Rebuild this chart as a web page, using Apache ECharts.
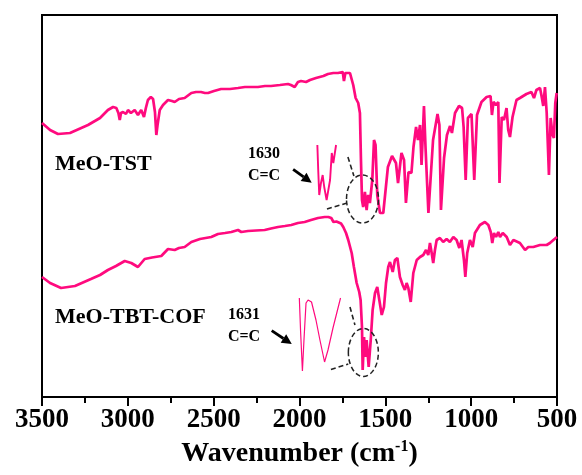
<!DOCTYPE html>
<html><head><meta charset="utf-8">
<script src="https://cdn.jsdelivr.net/npm/echarts@6/dist/echarts.min.js"></script>
<style>html,body{margin:0;padding:0;background:#fff}#c{width:582px;height:475px}</style>
</head><body><div id="c"></div>
<script>
// ---- data (wavenumber in cm-1, transmittance in arbitrary units) ----
const xTicks = [3500, 3000, 2500, 2000, 1500, 1000, 500];
const wnTop = [3500,3453,3407,3337,3232,3162,3116,3086,3067,3055,3047,3040,3028,3011,2999,2982,2960,2941,2922,2906,2895,2883,2866,2853,2842,2834,2827,2814,2795,2766,2743,2727,2702,2669,2630,2603,2574,2551,2533,2498,2457,2405,2358,2318,2283,2242,2201,2166,2114,2067,2050,2028,2009,1991,1962,1939,1904,1861,1834,1803,1776,1748,1741,1733,1725,1706,1687,1673,1658,1648,1642,1636,1629,1619,1609,1600,1590,1576,1566,1557,1547,1531,1512,1485,1461,1438,1426,1406,1391,1380,1365,1348,1336,1321,1310,1298,1289,1275,1266,1249,1222,1196,1185,1176,1158,1141,1123,1112,1094,1071,1053,1044,1032,1019,998,982,966,940,910,887,879,870,855,842,835,822,809,794,784,774,759,736,716,678,649,634,620,599,591,580,570,560,547,537,526,518,510,502];
const tTop = [274,267,263,264,272,279,287,290,289,284,277,284,285,283,287,284,287,282,287,280,289,297,300,298,285,262,272,287,292,297,296,295,298,299,304,305,305,304,304,306,308,308,309,310,310,310,311,311,312,313,312,310,315,316,315,317,319,321,323,324,324,325,316,324,325,324,312,299,294,284,237,197,190,205,187,202,194,217,257,252,202,184,184,230,241,234,214,244,237,194,225,224,250,270,257,272,232,291,250,184,257,283,272,187,239,262,271,264,284,291,289,270,217,279,283,217,282,295,300,301,282,295,292,295,214,280,277,289,267,260,280,297,299,303,305,299,307,309,302,291,310,284,222,279,262,259,294,304];
const wnBot = [3500,3453,3389,3308,3215,3162,3116,3069,3018,2980,2941,2902,2859,2805,2766,2727,2702,2669,2630,2580,2514,2475,2434,2397,2358,2339,2300,2253,2203,2166,2125,2085,2048,2009,1970,1933,1892,1853,1832,1815,1802,1793,1785,1774,1758,1745,1729,1716,1696,1683,1667,1652,1644,1636,1632,1624,1617,1609,1597,1585,1574,1560,1547,1535,1521,1508,1496,1483,1473,1457,1444,1430,1415,1399,1386,1376,1366,1352,1337,1317,1298,1279,1263,1250,1240,1230,1221,1211,1201,1182,1163,1143,1124,1104,1085,1069,1056,1042,1034,1023,1007,991,978,949,920,900,886,877,867,855,842,832,816,793,774,754,716,686,667,638,599,560,541,521,500];
const tBot = [120,114,109,111,118,122,127,131,136,134,130,138,139.5,141,148,147,149,150,155,158,160,163,164,165,167,165,166,166.5,167,168.5,170,171,172,174,175,177,179,180,180,179,175,173,175.5,176,173.5,170,164,157,144,130,114,105,97,70,27,60,40,57,30,57,87,104,110,97,82,90,114,130,135,125,137,139,120,112,107,114,109,95,124,137,140,142,147,142,154,144,134,147,157,159,155,158,155,160,157,149,157,137,120,144,157,150,164,172,175,172,165,154,164,160,165,160,164,160,152,157,154,147,150,150,152,152,154,157,160];
// magnified insets (drawn on the same axes)
const insetTopWn = [1896,1891,1885,1875,1865,1856,1842,1832,1822,1812,1803,1787];
const insetTopT  = [252,227,202,214,222,210,197,207,217,244,234,252];
const insetBotWn = [2001,1994,1983,1974,1962,1950,1930,1904,1881,1854,1834,1805,1761];
const insetBotT  = [99,67,26,57,94,97,95,77,57,35,47,69,99];
// annotation anchors (data coords)
const ellipses = [{c:[1633,198], rx:16, ry:24}, {c:[1628,44.5], rx:15, ry:24}];
const dashes = [[[1718,240],[1683,221]], [[1840,188],[1723,194]], [[1706,90],[1677,72]], [[1817,27.5],[1716,33]]];
const arrows = [[[2037,227.7],[1929,214.3]], [[2162,66.3],[2045,53]]];

const pink = '#FF0A7E';
const serif = '"Liberation Serif","Times New Roman",serif';
const zip = (a, b) => a.map((v, i) => [v, b[i]]);

const chart = echarts.init(document.getElementById('c'), null, {renderer: 'canvas'});
chart.setOption({
  animation: false,
  backgroundColor: '#fff',
  grid: {left: 42, right: 25, top: 15, bottom: 78, show: true, borderColor: '#000', borderWidth: 2, backgroundColor: 'transparent'},
  xAxis: {
    type: 'value', inverse: true, min: 500, max: 3500, interval: 500,
    axisLine: {show: true, onZero: false, lineStyle: {color: '#000', width: 2}},
    axisTick: {show: true, inside: false, length: 9, lineStyle: {color: '#000', width: 2}},
    minorTick: {show: true, splitNumber: 2, length: 6, lineStyle: {color: '#000', width: 2}},
    splitLine: {show: false},
    axisLabel: {show: true, margin: 10, color: '#000', fontFamily: serif, fontWeight: 'bold', fontSize: 27, showMinLabel: true, showMaxLabel: true,
      formatter: v => xTicks.includes(v) ? String(v) : ''},
    name: '{a|Wavenumber (cm}{s|-1}{a|)}', nameLocation: 'middle', nameGap: 37,
    nameTextStyle: {rich: {
      a: {fontFamily: serif, fontWeight: 'bold', fontSize: 28, color: '#000', lineHeight: 30},
      s: {fontFamily: serif, fontWeight: 'bold', fontSize: 16, color: '#000', verticalAlign: 'top', lineHeight: 16}
    }}
  },
  yAxis: {type: 'value', min: 0, max: 382, show: false},
  series: [
    {type: 'line', data: zip(wnTop, tTop), showSymbol: false, lineStyle: {color: pink, width: 2.7}, z: 3},
    {type: 'line', data: zip(wnBot, tBot), showSymbol: false, lineStyle: {color: pink, width: 2.7}, z: 3},
    {type: 'line', data: zip(insetTopWn, insetTopT), showSymbol: false, lineStyle: {color: pink, width: 1.9}, z: 3},
    {type: 'line', data: zip(insetBotWn, insetBotT), showSymbol: false, lineStyle: {color: pink, width: 1.2}, z: 3}
  ]
});

function px(p) { return chart.convertToPixel({xAxisIndex: 0, yAxisIndex: 0}, p); }
const g = [];
ellipses.forEach(e => {
  const c = px(e.c);
  g.push({type: 'ellipse', shape: {cx: c[0], cy: c[1], rx: e.rx, ry: e.ry},
    style: {fill: 'none', stroke: '#222', lineWidth: 1.5, lineDash: [5, 3]}, z: 10});
});
dashes.forEach(d => {
  const a = px(d[0]), b = px(d[1]);
  g.push({type: 'line', shape: {x1: a[0], y1: a[1], x2: b[0], y2: b[1]},
    style: {stroke: '#222', lineWidth: 1.6, lineDash: [5, 3]}, z: 10});
});
arrows.forEach(d => {
  const a = px(d[0]), b = px(d[1]);
  const dx = b[0] - a[0], dy = b[1] - a[1], L = Math.hypot(dx, dy);
  const ux = dx / L, uy = dy / L, hl = 10, hw = 5;
  const bx = b[0] - ux * hl, by = b[1] - uy * hl;
  g.push({type: 'line', shape: {x1: a[0], y1: a[1], x2: bx, y2: by}, style: {stroke: '#000', lineWidth: 2.8}, z: 10});
  g.push({type: 'polygon', shape: {points: [[b[0], b[1]], [bx - uy * hw, by + ux * hw], [bx + uy * hw, by - ux * hw]]},
    style: {fill: '#000'}, z: 10});
});
const txt = (t, x, y, size, align) => ({type: 'text', x: x, y: y, z: 11,
  style: {text: t, fill: '#000', font: 'bold ' + size + 'px ' + serif, align: align, verticalAlign: 'middle'}});
g.push(txt('MeO-TST', 55, 164, 22, 'left'));
g.push(txt('MeO-TBT-COF', 55, 317, 22, 'left'));
g.push(txt('1630', 264, 154, 16, 'center'));
g.push(txt('C=C', 264, 176, 16, 'center'));
g.push(txt('1631', 244, 315, 16, 'center'));
g.push(txt('C=C', 244, 337, 16, 'center'));
chart.setOption({graphic: g});
</script>
</body></html>
